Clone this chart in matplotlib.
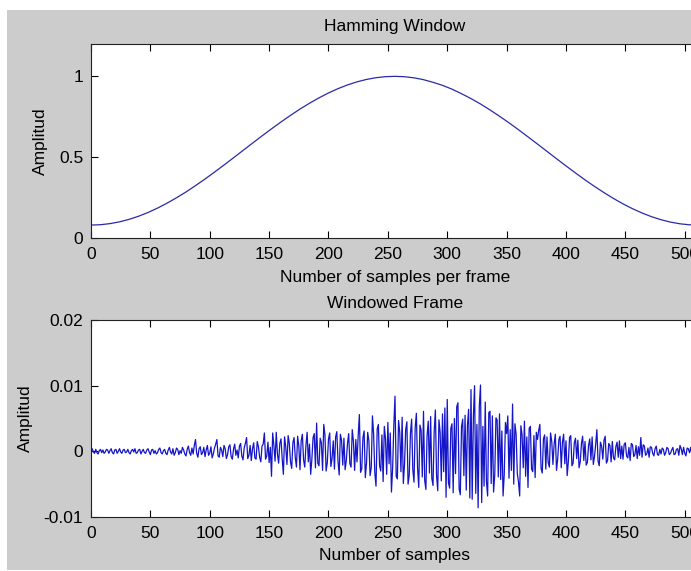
import numpy as np
import matplotlib
matplotlib.use('Agg')
import matplotlib.pyplot as plt
from matplotlib.patches import Rectangle

plt.rcParams['font.family'] = ['Liberation Sans', 'DejaVu Sans']
plt.rcParams['axes.unicode_minus'] = False

# hamming window, read every 8 samples
ham_n = list(range(0, 513, 8))
ham_val = [0.0800, 0.0822, 0.0889, 0.0999, 0.1152, 0.1345, 0.1578, 0.1848, 0.2153,
           0.2488, 0.2848, 0.3240, 0.3647, 0.4075, 0.4514, 0.4962, 0.5414, 0.5866,
           0.6313, 0.6751, 0.7178, 0.7585, 0.7975, 0.8335, 0.8668, 0.8971, 0.9238,
           0.9469, 0.9659, 0.9809, 0.9915, 0.9979, 1.0000, 0.9976, 0.9908, 0.9793,
           0.9631, 0.9442, 0.9207, 0.8927, 0.8623, 0.8290, 0.7922, 0.7532, 0.7125,
           0.6697, 0.6257, 0.5810, 0.5358, 0.4906, 0.4460, 0.4021, 0.3597, 0.3190,
           0.2807, 0.2445, 0.2112, 0.1812, 0.1547, 0.1319, 0.1130, 0.0983, 0.0878,
           0.0817, 0.0800]

# windowed frame, in units of 1e-3
frame_e3 = [
    0.2, 0.4, -0.1, -0.3, 0.3, -0.2, -0.4, 0.1, 0.3, -0.2, 0.2, -0.3, -0.1, 0.3, 0.2, -0.3,
    0.1, 0.4, -0.2, -0.4, 0.2, 0.3, -0.3, 0.0, 0.4, -0.1, -0.3, 0.2, 0.3, -0.2, -0.1, 0.3,
    -0.2, -0.4, 0.1, 0.3, -0.1, 0.4, -0.3, -0.2, 0.2, 0.3, -0.4, 0.0, 0.3, -0.2, -0.3, 0.2,
    0.4, -0.1, -0.5, 0.2, 0.3, -0.3, 0.1, -0.4, -0.2, 0.3, 0.5, -0.2, -0.4, 0.1, 0.3, -0.3,
    -0.5, 0.2, 0.6, -0.1, -0.4, 0.4, -0.6, -0.2, 0.5, 0.3, -0.5, 0.1, -0.3, 0.6, 0.2, -0.4,
    -0.7, 0.3, 0.8, -0.2, -0.6, 0.5, -0.4, 0.9, 1.8, -0.3, -0.9, 0.4, 0.7, -0.5, -0.2, 0.6,
    -0.8, 0.2, 0.9, -0.6, -0.3, 0.7, -1.0, -0.4, 0.5, 1.1, 1.8, -0.7, -0.9, 0.6, 0.2, -0.8,
    0.9, 0.4, -1.1, -0.5, 0.7, 1.0, -0.8, -1.2, 0.3, 1.1, -0.6, 0.2, -1.0, 0.8, 1.2, -0.7,
    -1.3, 0.5, 1.2, 2.1, -1.1, -0.6, 0.9, -1.4, 0.4, 1.3, -1.0, -1.2, 1.5, 0.7, -0.9, -1.6,
    0.8, 1.1, 2.8, -1.2, -0.7, 1.4, -1.7, 0.6, -3.8, 2.8, 0.9, -1.5, 2.9, -0.4, -1.8, 1.2,
    1.9, -1.1, -3.5, 2.2, 0.7, -2.0, 2.4, 1.2, -1.6, -2.6, 1.3, 2.1, -0.9, -2.4, 2.3, 0.8,
    -2.8, 1.6, 2.6, -1.3, -2.4, 0.9, 2.9, -1.6, 1.1, -3.5, -1.2, 2.1, 2.7, -2.5, 4.3, -1.8,
    -2.2, 2.0, 1.3, -2.9, 4.1, 2.5, -3.0, -1.7, 1.9, 2.8, -2.3, -1.1, 1.6, -2.7, 2.2, 3.0,
    -1.5, -3.6, 2.6, 1.7, -2.1, 2.0, -2.8, -1.4, 1.2, 2.7, -1.9, -2.4, 3.3, 1.5, -2.9, 1.8,
    -1.6, 2.4, 5.6, -3.2, -2.7, 2.1, 3.1, -4.0, -1.8, 2.9, 1.6, -3.7, -2.5, 5.4, 2.6, -3.3,
    -5.3, 3.4, 4.1, -2.2, -3.0, 2.5, -4.6, 3.8, 1.9, -3.5, 4.4, -1.9, 2.8, -6.2, -2.6, 3.9,
    8.4, -3.8, -4.2, 4.7, 2.9, -3.1, 5.2, -4.9, -2.0, 3.3, 4.5, -5.0, -3.6, 2.7, 4.9, -2.8,
    -4.7, 3.6, 5.8, -2.5, -5.5, 4.0, 3.2, -3.9, 6.1, -4.4, -5.8, 2.4, 4.6, -3.3, 5.3, -4.1,
    -5.2, 3.0, 6.3, -3.7, -6.0, 4.8, 2.9, -4.5, 5.7, -3.1, 6.6, -7.0, 7.9, -4.8, -5.6, 3.5,
    4.2, -6.3, 5.0, -3.4, 6.8, 7.4, -5.7, -6.6, 3.7, 4.9, -3.7, 5.5, -5.9, 4.0, 6.4, -7.1,
    9.4, -7.3, 5.2, 10.0, -6.4, 4.1, -8.6, 6.9, 10.1, -7.8, 3.8, -5.3, 7.5, -4.6, -6.8, 5.9,
    6.1, -4.9, 5.4, -6.2, -3.6, 5.1, 4.8, -3.9, 5.7, -4.3, 3.1, -6.8, -3.5, 4.4, 2.7, 5.4,
    -4.1, 3.3, -2.9, 7.2, -5.0, 4.2, 2.6, -3.4, -4.7, -6.8, 3.9, 2.5, -2.5, 4.6, -3.8, 2.2,
    -5.5, 3.5, 3.8, -2.7, -3.1, 2.4, -4.0, 2.9, 1.8, 3.2, 4.1, -2.6, -3.3, 1.9, 2.5, -2.7,
    2.2, -1.7, -2.4, 2.8, 1.5, -2.0, 1.1, 2.6, -2.9, -1.2, 1.8, 2.3, -2.5, 1.4, 2.6, -1.9,
    1.6, -3.7, -1.5, 2.1, 2.4, -2.2, -1.8, 1.3, 2.0, -1.1, 1.7, -2.5, -1.6, 1.2, 2.3, -1.4,
    1.5, -2.1, -1.7, 0.9, 1.9, -1.3, 2.2, -2.0, -0.8, 1.1, 3.3, -1.5, -2.2, 1.4, 0.8, -1.2,
    1.7, 2.3, -1.8, -1.4, 1.2, 0.9, -1.6, 1.5, -1.0, -1.3, 0.7, 1.4, -0.9, 1.6, -1.1, 0.8,
    -1.2, 1.1, 1.3, -0.7, -1.0, 0.6, -1.4, 1.2, 1.0, -0.8, -0.5, 0.9, -1.1, 0.7, -0.6, 2.1,
    -0.9, 1.0, 0.8, -0.6, -0.4, 0.5, -0.9, 0.7, 0.6, -0.3, -0.7, 0.4, 0.8, -0.5, -0.6, 0.3,
    -0.4, 0.5, 0.3, -0.6, -0.2, 0.6, 0.4, -0.5, -0.3, 0.2, 0.6, -0.5, -0.4, 0.3, 0.4, -0.6,
    0.9, 0.4, -0.5, 0.6, -0.3, -0.7, 0.5, 0.4, -0.2, 0.6, -0.5, 0.3, -0.4, 0.5, 0.2, -0.3,
]

xticks = [0, 50, 100, 150, 200, 250, 300, 350, 400, 450, 500]
ham_yticks = [0, 0.5, 1]
ham_ylabels = ['0', '0.5', '1']
frame_yticks = [-0.01, 0, 0.01, 0.02]
frame_ylabels = ['-0.01', '0', '0.01', '0.02']

W, H = 691, 571
fig = plt.figure(figsize=(W / 100, H / 100), dpi=100)
fig.patch.set_facecolor('white')
# matlab gray figure area
fig.patches.append(Rectangle((7 / W, 1 - 570 / H), 1, (570 - 10) / H,
                             transform=fig.transFigure, facecolor='#cccccc',
                             edgecolor='none', zorder=-10))

fs = 12.5

def style(ax):
    ax.set_facecolor('white')
    ax.set_xlim(0, 512)
    ax.set_xticks(xticks)
    ax.tick_params(direction='in', length=5, width=0.8, top=True, right=True,
                   labelsize=fs, colors='black', pad=5.5)
    ax.tick_params(axis='x', pad=6.5)
    for s in ax.spines.values():
        s.set_linewidth(0.8)
        s.set_color('#222222')

ax1 = fig.add_axes([91 / W, 1 - 238 / H, 608 / W, 194 / H])
ax1.plot(ham_n, ham_val, color='#2a2aa8', lw=0.9)
style(ax1)
ax1.set_ylim(0, 1.2)
ax1.set_yticks(ham_yticks)
ax1.set_yticklabels(ham_ylabels)
ax1.set_title('Hamming Window', fontsize=fs, pad=9)
ax1.set_xlabel('Number of samples per frame', fontsize=fs, labelpad=6)
ax1.set_ylabel('Amplitud', fontsize=fs, labelpad=8)

ax2 = fig.add_axes([91 / W, 1 - 517 / H, 608 / W, 197 / H])
ax2.plot(np.arange(len(frame_e3)), np.array(frame_e3) * 1e-3, color='#1414c8', lw=0.9)
style(ax2)
ax2.set_ylim(-0.01, 0.02)
ax2.set_yticks(frame_yticks)
ax2.set_yticklabels(frame_ylabels)
ax2.set_title('Windowed Frame', fontsize=fs, pad=9)
ax2.set_xlabel('Number of samples', fontsize=fs, labelpad=5)
ax2.set_ylabel('Amplitud', fontsize=fs, labelpad=8)

fig.savefig('out.png', dpi=100)
